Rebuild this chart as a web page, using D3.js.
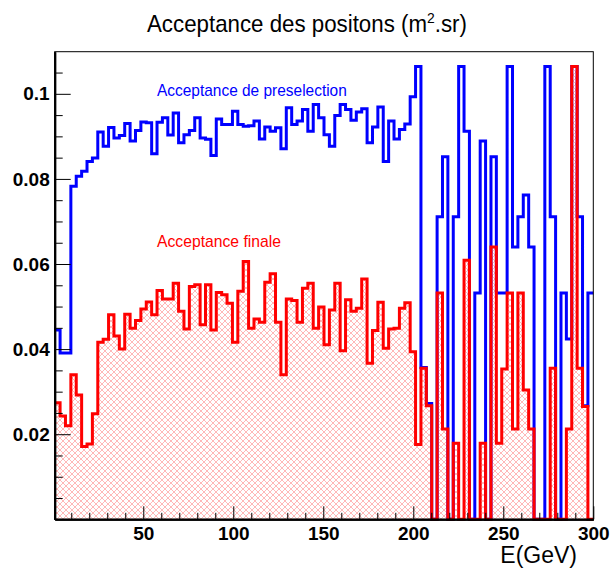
<!DOCTYPE html>
<html><head><meta charset="utf-8">
<script src="https://cdn.jsdelivr.net/npm/d3@7"></script>
<style>html,body{margin:0;padding:0;background:#fff;} svg{display:block;}</style>
</head><body><svg id="c" width="611" height="573"></svg>
<script>
// ---- data ----
const preselection = [
  0.0445, 0.0391, 0.0391, 0.0783, 0.0806, 0.0818, 0.0841, 0.0849, 0.0910, 0.0877,
  0.0921, 0.0896, 0.0902, 0.0930, 0.0889, 0.0914, 0.0934, 0.0932, 0.0859, 0.0933,
  0.0944, 0.0903, 0.0955, 0.0885, 0.0904, 0.0914, 0.0944, 0.0896, 0.0893, 0.0855,
  0.0941, 0.0928, 0.0928, 0.0959, 0.0928, 0.0924, 0.0925, 0.0936, 0.0894, 0.0922,
  0.0912, 0.0920, 0.0871, 0.0967, 0.0928, 0.0936, 0.0963, 0.0912, 0.0975, 0.0944,
  0.0904, 0.0877, 0.0949, 0.0975, 0.0963, 0.0938, 0.0957, 0.0965, 0.0885, 0.0922,
  0.0969, 0.0841, 0.0936, 0.0894, 0.0916, 0.0929, 0.0993, 0.1064, 0.0357, 0.0272,
  0.0,    0.0711, 0.0852, 0.0,    0.0711, 0.1064, 0.0912, 0.0,    0.0532, 0.0889,
  0.0,    0.0852, 0.0532, 0.0532, 0.1064, 0.0640, 0.0711, 0.0762, 0.0640, 0.0,
  0.0,    0.1064, 0.0711, 0.0,    0.0532, 0.0424, 0.1064, 0.0711, 0.0267, 0.0532
];
const finale = [
  0.0274, 0.0243, 0.0220, 0.0340, 0.0292, 0.0171, 0.0177, 0.0248, 0.0416, 0.0423,
  0.0481, 0.0431, 0.0400, 0.0482, 0.0449, 0.0467, 0.0494, 0.0511, 0.0481, 0.0538,
  0.0518, 0.0518, 0.0555, 0.0489, 0.0447, 0.0547, 0.0551, 0.0457, 0.0551, 0.0445,
  0.0533, 0.0528, 0.0508, 0.0416, 0.0536, 0.0606, 0.0449, 0.0471, 0.0463, 0.0557,
  0.0577, 0.0463, 0.0340, 0.0518, 0.0514, 0.0463, 0.0543, 0.0555, 0.0449, 0.0499,
  0.0410, 0.0492, 0.0555, 0.0396, 0.0516, 0.0489, 0.0496, 0.0565, 0.0367, 0.0444,
  0.0510, 0.0402, 0.0447, 0.0449, 0.0496, 0.0509, 0.0394, 0.0176, 0.0355, 0.0267,
  0.0,    0.0532, 0.0212, 0.0,    0.0179, 0.0,    0.0609, 0.0,    0.0,    0.0179,
  0.0,    0.0640, 0.0179, 0.0353, 0.0532, 0.0212, 0.0532, 0.0304, 0.0212, 0.0,
  0.0,    0.0,    0.0355, 0.0,    0.0,    0.0212, 0.1064, 0.0355, 0.0265, 0.0
];
const xDomain = [0.8, 300];
const yDomain = [0, 0.1099];
const xMajorTicks = [50, 100, 150, 200, 250, 300];
const xMajorLabels = ["50", "100", "150", "200", "250", "300"];
const xMinorTicks = [10, 20, 30, 40, 60, 70, 80, 90, 110, 120, 130, 140, 160, 170, 180, 190,
                     210, 220, 230, 240, 260, 270, 280, 290];
const yMajorTicks = [0.02, 0.04, 0.06, 0.08, 0.1];
const yMajorLabels = ["0.02", "0.04", "0.06", "0.08", "0.1"];
const yMinorTicks = [0.005, 0.01, 0.015, 0.025, 0.03, 0.035, 0.045, 0.05, 0.055,
                     0.065, 0.07, 0.075, 0.085, 0.09, 0.095, 0.105];
const titleText = "Acceptance des positons (m";
const titleSup = "2";
const titleTail = ".sr)";
const xTitle = "E(GeV)";
const labelPre = "Acceptance de preselection";
const labelFin = "Acceptance finale";

// ---- layout ----
const W = 611, H = 573;
const L = 54.7, R = 593.3, T = 51.7, B = 519.3;
const FONT = "'Liberation Sans', Arial, Helvetica, sans-serif";

const svg = d3.select("#c");
svg.append("rect").attr("width", W).attr("height", H).attr("fill", "#fff");

const defs = svg.append("defs");
const pat = defs.append("pattern").attr("id", "hatch")
  .attr("patternUnits", "userSpaceOnUse").attr("width", 6).attr("height", 6);
pat.append("path").attr("d", "M0,0L6,6M6,0L0,6")
  .attr("stroke", "#ff0000").attr("stroke-opacity", 0.28).attr("stroke-width", 1).attr("fill", "none");

const x = d3.scaleLinear().domain(xDomain).range([L, R]);
const y = d3.scaleLinear().domain(yDomain).range([B, T]);

function stepPoints(vals) {
  const n = vals.length, w = (xDomain[1] - xDomain[0]) / n;
  const pts = [];
  vals.forEach((v, i) => {
    pts.push([xDomain[0] + i * w, v]);
    pts.push([xDomain[0] + (i + 1) * w, v]);
  });
  return pts;
}
const line = d3.line().x(d => x(d[0])).y(d => y(d[1]));
const area = d3.area().x(d => x(d[0])).y0(y(0)).y1(d => y(d[1]));

const finPts = stepPoints(finale);
const prePts = stepPoints(preselection);

svg.append("path").attr("d", area(finPts)).attr("fill", "url(#hatch)").attr("stroke", "none");
svg.append("path").attr("d", line(prePts)).attr("fill", "none")
  .attr("stroke", "#0000ff").attr("stroke-width", 3).attr("stroke-linejoin", "miter");
svg.append("path").attr("d", line(finPts)).attr("fill", "none")
  .attr("stroke", "#ff0000").attr("stroke-width", 3).attr("stroke-linejoin", "miter");

// frame
svg.append("rect").attr("x", L).attr("y", T).attr("width", R - L).attr("height", B - T)
  .attr("fill", "none").attr("stroke", "#000").attr("stroke-width", 1);

// axes
const gx = svg.append("g").attr("transform", `translate(0,${B})`)
  .call(d3.axisBottom(x).tickValues(xMajorTicks)
    .tickFormat(d => xMajorLabels[xMajorTicks.indexOf(d)])
    .tickSizeInner(-13).tickSizeOuter(0).tickPadding(7));
const gxm = svg.append("g").attr("transform", `translate(0,${B})`)
  .call(d3.axisBottom(x).tickValues(xMinorTicks).tickFormat("").tickSizeInner(-6.5).tickSizeOuter(0));
const gy = svg.append("g").attr("transform", `translate(${L},0)`)
  .call(d3.axisLeft(y).tickValues(yMajorTicks)
    .tickFormat(d => yMajorLabels[yMajorTicks.indexOf(d)])
    .tickSizeInner(-16).tickSizeOuter(0).tickPadding(5));
const gym = svg.append("g").attr("transform", `translate(${L},0)`)
  .call(d3.axisLeft(y).tickValues(yMinorTicks).tickFormat("").tickSizeInner(-8).tickSizeOuter(0));

[gx, gxm, gy, gym].forEach(g => {
  g.select(".domain").attr("stroke", "#000").attr("stroke-width", 2);
  g.selectAll(".tick line").attr("stroke", "#000").attr("stroke-width", 1);
  g.selectAll("text").attr("font-family", FONT).attr("font-weight", "bold")
    .attr("font-size", 19).attr("fill", "#000");
});

// fit a text to a target width by horizontal scaling
function fitText(sel, x0, y0, targetW) {
  const w = sel.node().getComputedTextLength();
  sel.attr("transform", `translate(${x0},${y0}) scale(${targetW / w},1)`);
}

// titles and labels
const title = svg.append("text").attr("x", 0).attr("y", 0)
  .attr("font-family", FONT).attr("font-size", 24).attr("fill", "#000");
title.append("tspan").text(titleText);
title.append("tspan").attr("font-size", 15).attr("dy", -9).text(titleSup);
title.append("tspan").attr("dy", 9).text(titleTail);
fitText(title, 147, 32, 320);

svg.append("text").attr("x", 577).attr("y", 563).attr("text-anchor", "end")
  .attr("font-family", FONT).attr("font-size", 23).attr("fill", "#000").text(xTitle);

const tPre = svg.append("text").attr("x", 0).attr("y", 0)
  .attr("font-family", FONT).attr("font-size", 16).attr("fill", "#0000ff").text(labelPre);
fitText(tPre, 157, 96, 190);
const tFin = svg.append("text").attr("x", 0).attr("y", 0)
  .attr("font-family", FONT).attr("font-size", 16).attr("fill", "#ff0000").text(labelFin);
fitText(tFin, 157, 247, 124);
</script></body></html>
